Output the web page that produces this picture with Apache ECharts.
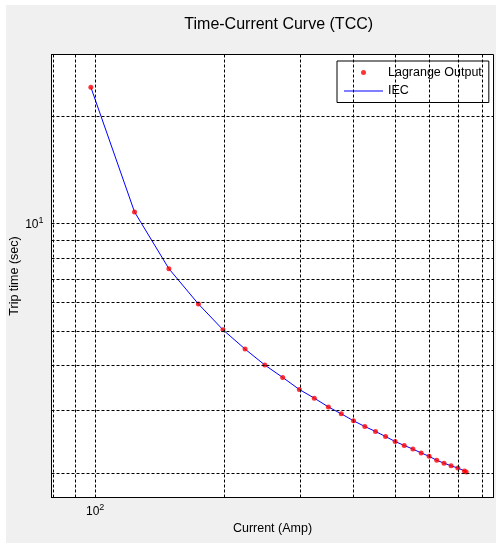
<!DOCTYPE html>
<html>
<head>
<meta charset="utf-8">
<script src="https://cdn.jsdelivr.net/npm/echarts@6/dist/echarts.min.js"></script>
<style>
  html, body { margin: 0; padding: 0; background: #fff; }
  #chart { position: absolute; left: 6px; top: 5px; width: 490px; height: 538px; }
</style>
</head>
<body>
<div id="chart"></div>
<script>
// values (current in A, trip time in s)
var current = [97.7, 123.5, 148.5, 174, 198.5, 223.5, 248.5, 273.5, 299, 324, 349.5, 374.5,
  400, 425, 450, 475, 500, 525, 550, 575, 600, 625, 650, 675, 700, 725, 732];
var tripTime = [24.05, 10.77, 7.47, 5.95, 5.04, 4.45, 4.015, 3.707, 3.43, 3.244, 3.065, 2.932,
  2.803, 2.702, 2.617, 2.533, 2.453, 2.391, 2.336, 2.279, 2.23, 2.173, 2.134, 2.097, 2.068, 2.03, 2.014];
var iecCurrent = current;
var iecTime = tripTime;

// grid lines and tick labels
var xGridValues = [80, 90, 100, 200, 300, 400, 500, 600, 700, 800];
var yGridValues = [2, 3, 4, 5, 6, 7, 8, 9, 10, 20];
var xTickValues = [100];
var xTickExp = ['2'];
var yTickValues = [10];
var yTickExp = ['1'];

var FONT = 'Liberation Sans, Arial, sans-serif';

function pairs(xs, ys) {
  var out = [];
  for (var i = 0; i < xs.length; i++) out.push([xs[i], ys[i]]);
  return out;
}

function tickFormatter(values, exps) {
  return function (v) {
    for (var i = 0; i < values.length; i++) {
      if (Math.abs(v - values[i]) < values[i] * 1e-6) {
        return '{b|10}{s|' + exps[i] + '}';
      }
    }
    return '';
  };
}

var powRich = {
  b: { fontSize: 12, lineHeight: 14, verticalAlign: 'bottom', color: '#000', fontFamily: FONT },
  s: { fontSize: 9, lineHeight: 10, verticalAlign: 'top', color: '#000', fontFamily: FONT }
};

var gridLines = [];
xGridValues.forEach(function (v) { gridLines.push({ xAxis: v }); });
yGridValues.forEach(function (v) { gridLines.push({ yAxis: v }); });

var chart = echarts.init(document.getElementById('chart'));
chart.setOption({
  animation: false,
  backgroundColor: '#f0f0f0',
  textStyle: { fontFamily: FONT },
  grid: {
    left: 45.5, top: 49.5, width: 442, height: 443,
    outerBoundsMode: 'none', containLabel: false,
    show: true, backgroundColor: '#fff', borderColor: '#000', borderWidth: 1
  },
  graphic: [{
    type: 'text', x: 272.7, y: 20,
    style: {
      text: 'Time-Current Curve (TCC)', fill: '#000', font: '16px ' + FONT,
      textAlign: 'center', textVerticalAlign: 'middle'
    }
  }],
  legend: {
    orient: 'vertical', left: 331, top: 56,
    padding: [5, 7, 5, 7], itemGap: 5.5, itemWidth: 39, itemHeight: 5,
    backgroundColor: '#fff', borderColor: '#000', borderWidth: 1,
    selectedMode: false,
    textStyle: { fontSize: 12.5, color: '#000', fontFamily: FONT },
    data: [
      { name: 'Lagrange Output', icon: 'circle' },
      { name: 'IEC', icon: 'path://M0,0H39V1H0Z' }
    ]
  },
  xAxis: {
    type: 'log', min: 79.1, max: 847.6,
    name: 'Current (Amp)', nameLocation: 'middle', nameGap: 25, nameMoveOverlap: false,
    nameTextStyle: { fontSize: 12.5, color: '#000' },
    axisLine: { show: true, lineStyle: { color: '#000', width: 1 } },
    axisTick: { show: false },
    splitLine: { show: false },
    axisLabel: { margin: 6, formatter: tickFormatter(xTickValues, xTickExp), rich: powRich }
  },
  yAxis: {
    type: 'log', min: 1.71, max: 29.7,
    name: 'Trip time (sec)', nameLocation: 'middle', nameGap: 30, nameRotate: 90,
    nameMoveOverlap: false,
    nameTextStyle: { fontSize: 12.5, color: '#000' },
    axisLine: { show: true, lineStyle: { color: '#000', width: 1 } },
    axisTick: { show: false },
    splitLine: { show: false },
    axisLabel: { margin: 8, formatter: tickFormatter(yTickValues, yTickExp), rich: powRich }
  },
  series: [
    {
      type: 'line', data: [], silent: true, z: 1,
      markLine: {
        silent: true, symbol: ['none', 'none'], animation: false,
        label: { show: false },
        lineStyle: { color: '#000', width: 1, type: [3, 2] },
        emphasis: { disabled: true },
        data: gridLines
      }
    },
    {
      name: 'IEC', type: 'line', z: 3,
      data: pairs(iecCurrent, iecTime),
      symbol: 'none', color: '#0000ff',
      lineStyle: { color: '#0000ff', width: 1 }
    },
    {
      name: 'Lagrange Output', type: 'scatter', z: 4,
      data: pairs(current, tripTime),
      symbol: 'circle', symbolSize: 5,
      itemStyle: { color: '#ff0000' }
    }
  ]
});
</script>
</body>
</html>
